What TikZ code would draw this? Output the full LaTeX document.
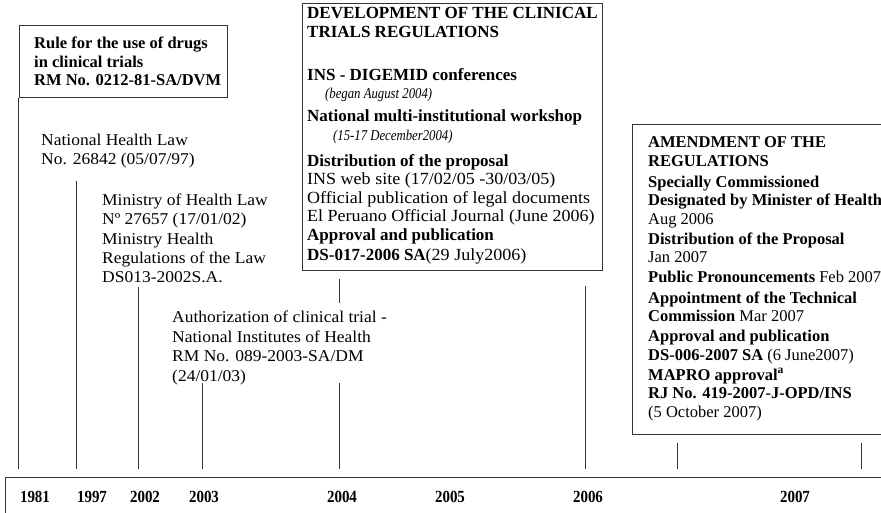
\documentclass[tikz,border=0pt]{standalone}
\usepackage{fontspec}
\setmainfont{Liberation Serif}
\newfontfamily\widef{Liberation Serif}[FakeStretch=1.06]
\newfontfamily\narrowit{Liberation Serif}[FakeStretch=0.85]
\newcommand\fh{\rule{0pt}{13pt}}
\newcommand\yrbox[1]{\scalebox{0.88}[1]{#1}}
\newcommand\smit[1]{{\narrowit\itshape\fontsize{15}{18.5}\selectfont #1}}
\begin{document}
\begin{tikzpicture}[x=1pt,y=-1pt,
  ln/.style={draw=black!80, line width=0.9pt},
  boxs/.style={draw=black!80, line width=1.2pt, inner sep=0pt, anchor=north west},
  txt/.style={inner sep=0pt, anchor=north west, align=left, font=\fontsize{16.5}{18.5}\selectfont},
  txtw/.style={inner sep=0pt, anchor=north west, align=left, font=\widef\fontsize{16.5}{18.5}\selectfont},
  txtb/.style={inner sep=0pt, anchor=north west, align=left, font=\bfseries\fontsize{16.5}{18.5}\selectfont},
  yr/.style={inner sep=0pt, font=\bfseries\fontsize{17}{20}\selectfont}]
\path[use as bounding box, clip] (0,0) rectangle (881,512);

% boxes
\node[boxs, minimum width=208pt, minimum height=72pt] (b1) at (18.5,25) {};
\node[boxs, minimum width=300pt, minimum height=267pt] (b2) at (302,3) {};
\node[boxs, minimum width=270pt, minimum height=310pt] (b3) at (632,124) {};
\node[boxs, minimum width=900pt, minimum height=60pt, line width=1.4pt] (axis) at (5,477) {};

% texts
\node[txtb] (t1) at (34,35.5) {\fh Rule for the use of drugs\\in clinical trials\\RM No. 0212-81-SA/DVM};
\node[txtw] (t2) at (41,132.5) {\fh National Health Law\\No. 26842 (05/07/97)};
\node[txtw, font=\widef\fontsize{16.5}{19.2}\selectfont] (t3) at (102,192.5) {\fh Ministry of Health Law\\Nº 27657 (17/01/02)\\Ministry Health\\Regulations of the Law\\DS013-2002S.A.};
\node[txtw, font=\widef\fontsize{16.5}{19.5}\selectfont] (t4) at (172,309.5) {\fh Authorization of clinical trial -\\National Institutes of Health\\RM No. 089-2003-SA/DM\\(24/01/03)};
\node[txt, font=\fontsize{17}{18.5}\selectfont] (t5) at (307,5.5) {\fh\textbf{DEVELOPMENT OF THE CLINICAL}\\
\textbf{TRIALS REGULATIONS}\\[24.5pt]
\textbf{INS - DIGEMID conferences}\\
\hspace*{18pt}\smit{(began August 2004)}\\[4.5pt]
\textbf{National multi-institutional workshop}\\
\hspace*{26pt}\smit{(15-17 December2004)}\\[7.5pt]
\textbf{Distribution of the proposal}\\
{\widef INS web site (17/02/05 -30/03/05)}\\
{\widef Official publication of legal documents}\\
{\widef El Peruano Official Journal (June 2006)}\\
\textbf{Approval and publication}\\[1.5pt]
\textbf{DS-017-2006 SA}{\widef(29 July2006)}};
\node[txt] (t6) at (648,134.5) {\fh\textbf{AMENDMENT OF THE}\\
\textbf{REGULATIONS}\\[2.5pt]
\textbf{Specially Commissioned}\\
\textbf{Designated by Minister of Health}\\
Aug 2006\\[1.5pt]
\textbf{Distribution of the Proposal}\\
Jan 2007\\[1pt]
\textbf{Public Pronouncements} Feb 2007\\[2.5pt]
\textbf{Appointment of the Technical}\\
\textbf{Commission} Mar 2007\\[1.5pt]
\textbf{Approval and publication}\\
\textbf{DS-006-2007 SA} (6 June2007)\\[1.5pt]
\textbf{MAPRO approval\textsuperscript{a}}\\
\textbf{RJ No. 419-2007-J-OPD/INS}\\
(5 October 2007)};

% connector coordinates
\coordinate (base) at (0,469);
\coordinate (c1997) at (76,181);
\coordinate (c2002) at (138,287);
\coordinate (c2003) at (202,383);
\coordinate (c2004a) at (339,279);
\coordinate (c2004b) at (339,303);
\coordinate (c2004c) at (339,383);
\coordinate (c2006) at (585,286);
\coordinate (c2007a) at (677,443);
\coordinate (c2007b) at (861,443);

\draw[ln] (b1.south west) -- (b1.south west |- base);
\draw[ln] (c1997) -- (c1997 |- base);
\draw[ln] (c2002) -- (c2002 |- base);
\draw[ln] (c2003) -- (c2003 |- base);
\draw[ln] (c2004a) -- (c2004b);
\draw[ln] (c2004c) -- (c2004c |- base);
\draw[ln] (c2006) -- (c2006 |- base);
\draw[ln] (c2007a) -- (c2007a |- base);
\draw[ln] (c2007b) -- (c2007b |- base);

% years
\node[yr] (y1981) at (35,497) {\yrbox{1981}};
\node[yr] (y1997) at (92,497) {\yrbox{1997}};
\node[yr] (y2002) at (145,497) {\yrbox{2002}};
\node[yr] (y2003) at (204,497) {\yrbox{2003}};
\node[yr] (y2004) at (342,497) {\yrbox{2004}};
\node[yr] (y2005) at (450,497) {\yrbox{2005}};
\node[yr] (y2006) at (588,497) {\yrbox{2006}};
\node[yr] (y2007) at (795,497) {\yrbox{2007}};
\end{tikzpicture}
\end{document}
